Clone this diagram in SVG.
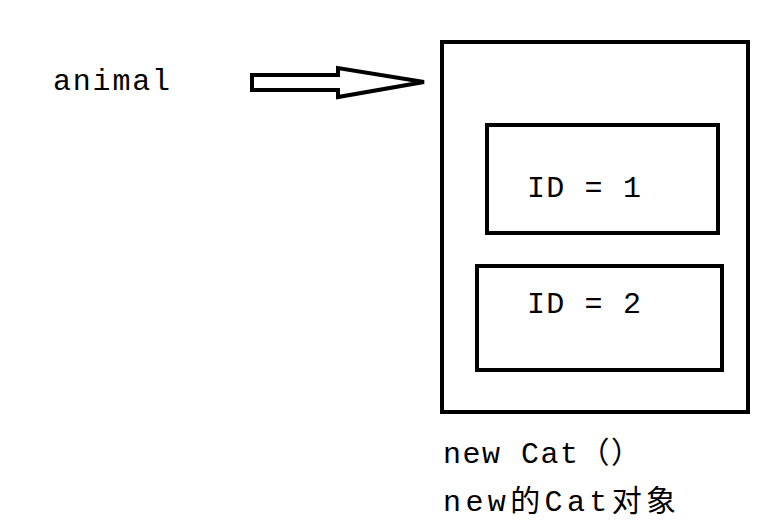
<svg xmlns="http://www.w3.org/2000/svg" width="781" height="530" viewBox="0 0 781 530">
<style>
.b{fill:none;stroke:#000;stroke-width:4}
.t{font-family:"Liberation Mono","Noto Sans CJK SC",monospace;font-size:30px;fill:#000}
</style>
<rect width="781" height="530" fill="#fff"/>
<g id="connectors">
<path d="M252,75 L338,75 L338,68 L424,82 L338,97 L338,90 L252,90 Z" fill="#fff" stroke="#000" stroke-width="4" stroke-linejoin="miter"/>
</g>
<g id="animal"><text class="t" x="53" y="90" textLength="117">animal</text></g>
<g id="cat">
<rect class="b" x="442" y="42" width="306" height="370"/>
<text class="t" x="443" y="463" textLength="198">new Cat（）</text>
<text class="t" x="443" y="511" textLength="233">new的Cat对象</text>
</g>
<g id="id1"><rect class="b" x="487" y="125" width="231" height="108"/><text class="t" x="527" y="197" textLength="114">ID = 1</text></g>
<g id="id2"><rect class="b" x="477" y="266" width="245" height="104"/><text class="t" x="527" y="313" textLength="114">ID = 2</text></g>
</svg>
